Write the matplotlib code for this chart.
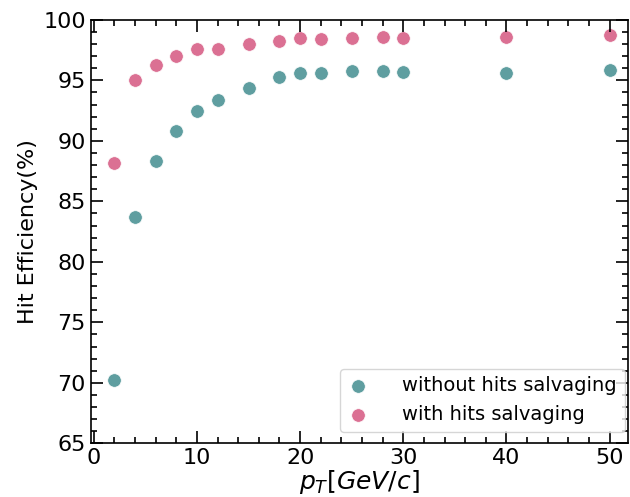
import matplotlib
matplotlib.use('Agg')
import matplotlib.pyplot as plt
from matplotlib.ticker import MultipleLocator

pt = [2, 4, 6, 8, 10, 12, 15, 18, 20, 22, 25, 28, 30, 40, 50]
eff_without = [70.2, 83.7, 88.3, 90.8, 92.5, 93.4, 94.35, 95.25, 95.65, 95.65, 95.78, 95.78, 95.7, 95.65, 95.86]
eff_with = [88.2, 95.0, 96.3, 97.0, 97.6, 97.6, 97.97, 98.27, 98.5, 98.44, 98.52, 98.58, 98.52, 98.55, 98.74]

fig, ax = plt.subplots(figsize=(6.3, 4.97), dpi=100)
fig.subplots_adjust(left=0.144, right=0.997, top=0.96, bottom=0.108)

ax.scatter(pt, eff_without, s=95, color='cadetblue', edgecolors='white', linewidths=0.5,
           label='without hits salvaging')
ax.scatter(pt, eff_with, s=95, color='palevioletred', edgecolors='white', linewidths=0.5,
           label='with hits salvaging')

ax.set_xlim(-0.3, 51.8)
ax.set_ylim(65, 100)
ax.xaxis.set_major_locator(MultipleLocator(10))
ax.xaxis.set_minor_locator(MultipleLocator(2))
ax.yaxis.set_major_locator(MultipleLocator(5))
ax.yaxis.set_minor_locator(MultipleLocator(1))

ax.tick_params(which='both', direction='in', top=True, right=True, width=1.2)
ax.tick_params(which='major', length=8.6, labelsize=16)
ax.tick_params(which='minor', length=4.3)
for sp in ax.spines.values():
    sp.set_linewidth(1.2)

ax.set_xlabel('$p_T[GeV/c]$', fontsize=18, labelpad=0)
ax.set_ylabel('Hit Efficiency(%)', fontsize=16)
ax.legend(loc='lower right', bbox_to_anchor=(0.994, 0.027), borderaxespad=0,
          fontsize=14, handlelength=1.0, handletextpad=1.8)

fig.savefig('out.png', dpi=100)
